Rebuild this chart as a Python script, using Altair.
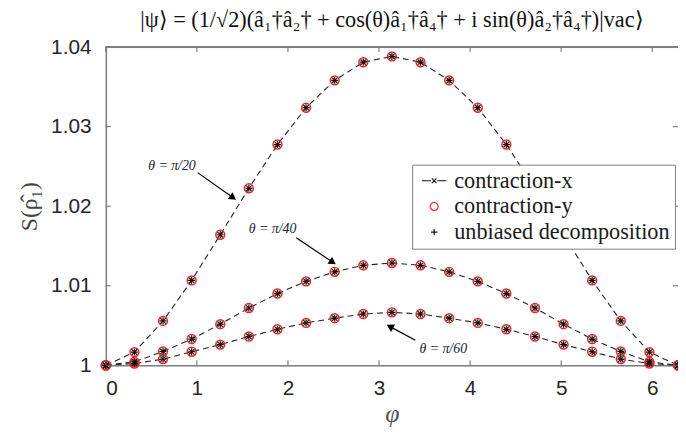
import altair as alt
import pandas as pd

# ---------------- data ----------------
phi = [0.0, 0.3142, 0.6283, 0.9425, 1.2566, 1.5708, 1.8850, 2.1991, 2.5133, 2.8274,
       3.1416, 3.4558, 3.7699, 4.0841, 4.3982, 4.7124, 5.0265, 5.3407, 5.6549, 5.9690, 6.2832]

s_pi20 = [1.0, 1.00166, 1.00558, 1.01067, 1.01641, 1.02225, 1.02775, 1.03238, 1.03582, 1.0381,
          1.03883, 1.0381, 1.03582, 1.03238, 1.02775, 1.02225, 1.01641, 1.01067, 1.00558, 1.00166, 1.0]
s_pi40 = [1.0, 1.00044, 1.00174, 1.0033, 1.00517, 1.0072, 1.00902, 1.01055, 1.01175, 1.01257,
          1.01286, 1.01257, 1.01175, 1.01055, 1.00902, 1.0072, 1.00517, 1.0033, 1.00174, 1.00044, 1.0]
s_pi60 = [1.0, 1.00022, 1.00078, 1.0017, 1.0026, 1.00362, 1.00453, 1.00533, 1.00592, 1.00645,
          1.00666, 1.00645, 1.00592, 1.00533, 1.00453, 1.00362, 1.0026, 1.0017, 1.00078, 1.00022, 1.0]

methods = ["contraction-x", "contraction-y", "unbiased decomposition"]

x_ticks = [0, 1, 2, 3, 4, 5, 6]
y_ticks = [1.0, 1.01, 1.02, 1.03, 1.04]

ann_text = ["θ = π/20", "θ = π/40", "θ = π/60"]
ann_x = [0.726, 1.831, 3.705]
ann_y = [1.0251, 1.01714, 1.00199]
arrow_x = [1.008, 2.091, 3.399]
arrow_y = [1.02422, 1.01602, 1.00314]
arrow_x2 = [1.387, 2.481, 3.131]
arrow_y2 = [1.02116, 1.01304, 1.00480]
arrow_angle = [125, 124, 298]

# ---------------- tables ----------------
rows = []
for name, ser in [("pi/20", s_pi20), ("pi/40", s_pi40), ("pi/60", s_pi60)]:
    for p, s in zip(phi, ser):
        rows.append({"theta": name, "phi": p, "S": s})
df = pd.DataFrame(rows)

leg_df = pd.DataFrame({"method": methods, "phi": [0.0] * 3, "S": [1.0] * 3})
ann_df = pd.DataFrame({"text": ann_text, "x": ann_x, "y": ann_y})
arr_df = pd.DataFrame({"x": arrow_x, "y": arrow_y, "x2": arrow_x2, "y2": arrow_y2, "angle": arrow_angle})
xt_df = pd.DataFrame({"t": x_ticks})
yt_df = pd.DataFrame({"t": y_ticks})

W, H = 579, 322
FRAME = "#7f7f7f"

xscale = alt.Scale(domain=[0, 6.2832], nice=False, zero=False)
yscale = alt.Scale(domain=[1.0, 1.04], nice=False, zero=False)

X = alt.X("phi:Q", scale=xscale,
          axis=alt.Axis(values=x_ticks, format="d", title="φ", ticks=False, tickSize=0, grid=False,
                        labelFont="Liberation Sans", labelFontSize=21, labelColor="#262626",
                        labelPadding=13, domain=True, domainColor=FRAME, domainWidth=1.5,
                        titleFont="Liberation Serif", titleFontStyle="italic", titleFontSize=26,
                        titleFontWeight="normal", titleColor="#555555", titlePadding=2))
Y = alt.Y("S:Q", scale=yscale,
          axis=alt.Axis(values=y_ticks, title="S(ρ̂₁)", ticks=False, tickSize=0, grid=False,
                        labelExpr="datum.value == 1 ? '1' : format(datum.value, '.2f')",
                        labelFont="Liberation Sans", labelFontSize=21, labelColor="#262626",
                        labelPadding=15, domain=True, domainColor=FRAME, domainWidth=1.5,
                        titleFont="Liberation Serif", titleFontSize=24, titleFontWeight="normal",
                        titleColor="#444444", titlePadding=9))

base = alt.Chart(df)

lines = base.mark_line(strokeDash=[6, 4], color="#222222", strokeWidth=1.1).encode(
    x=X, y=Y, detail="theta:N")

circles = base.mark_point(shape="circle", filled=False, color="#e8242a", size=81,
                          strokeWidth=1.5, opacity=1).encode(x="phi:Q", y="S:Q")
XPATH = "M-1,-1L1,1M-1,1L1,-1"
PLUS = "M-1,0H1M0,-1V1"
xs = base.mark_point(shape=XPATH, filled=False, color="#111111", size=30,
                     strokeWidth=1.2, opacity=1).encode(x="phi:Q", y="S:Q")
pluses = base.mark_point(shape=PLUS, filled=False, color="#111111", size=49,
                         strokeWidth=1.2, opacity=1).encode(x="phi:Q", y="S:Q")

LEG_X = "M-3.1,0H-0.8M0.8,0H3.1M-0.6,-0.6L0.6,0.6M-0.6,0.6L0.6,-0.6"
LEG_PLUS = "M-0.8,0H0.8M0,-0.8V0.8"
legend = alt.Legend(title=None, orient="none", legendX=310, legendY=119,
                    labelFont="Liberation Serif", labelFontSize=22.5, labelColor="#1a1a1a",
                    symbolSize=64, symbolStrokeWidth=1.2, symbolOffset=6, labelOffset=9,
                    rowPadding=3, padding=5, strokeColor=FRAME, fillColor="white",
                    labelLimit=400)
leg_layer = alt.Chart(leg_df).transform_filter("datum.S < 0").mark_point(
    filled=False, strokeWidth=1.2, opacity=1).encode(
    x="phi:Q", y="S:Q",
    shape=alt.Shape("method:N", scale=alt.Scale(domain=methods, range=[LEG_X, "circle", LEG_PLUS]),
                    legend=legend),
    stroke=alt.Stroke("method:N", scale=alt.Scale(domain=methods, range=["#111111", "#e8242a", "#111111"]),
                      legend=legend),
)

ann = alt.Chart(ann_df).mark_text(font="Liberation Serif", fontStyle="italic", fontSize=14,
                                  color="#1a1a2e").encode(x="x:Q", y="y:Q", text="text:N")
arrows = alt.Chart(arr_df).mark_rule(color="black", strokeWidth=1.2).encode(
    x="x:Q", y="y:Q", x2="x2:Q", y2="y2:Q")
heads = alt.Chart(arr_df).mark_point(shape="triangle", filled=True, color="black", size=70,
                                     opacity=1).encode(
    x="x2:Q", y="y2:Q", angle=alt.Angle("angle:Q", scale=None))

tick_c = "#666666"
bt = alt.Chart(xt_df).mark_rule(color=tick_c, strokeWidth=1).encode(
    x="t:Q", y=alt.value(H), y2=alt.value(H - 5))
tt = alt.Chart(xt_df).mark_rule(color=tick_c, strokeWidth=1).encode(
    x="t:Q", y=alt.value(0), y2=alt.value(5))
lt = alt.Chart(yt_df).mark_rule(color=tick_c, strokeWidth=1).encode(
    y="t:Q", x=alt.value(0), x2=alt.value(5))
rt = alt.Chart(yt_df).mark_rule(color=tick_c, strokeWidth=1).encode(
    y="t:Q", x=alt.value(W), x2=alt.value(W - 5))
top_line = alt.Chart(xt_df).mark_rule(color=FRAME, strokeWidth=1.5).encode(
    x=alt.value(0), x2=alt.value(W + 2), y=alt.value(0))

chart = alt.layer(lines, circles, xs, pluses, leg_layer, ann, arrows, heads,
                  bt, tt, lt, rt, top_line).properties(
    width=W, height=H,
    title=alt.Title("|ψ⟩ = (1/√2)(â₁†â₂† + cos(θ)â₁†â₄† + i sin(θ)â₂†â₄†)|vac⟩",
                    font="Liberation Serif", fontSize=22.5, fontWeight="normal", color="#111111",
                    anchor="middle", offset=5),
    autosize=alt.AutoSizeParams(type="none"),
    padding={"left": 99, "top": 37, "right": 0, "bottom": 70},
).configure_view(stroke=None).configure(background="white")

chart.save("out.html", embed_options={"renderer": "svg", "actions": False})
